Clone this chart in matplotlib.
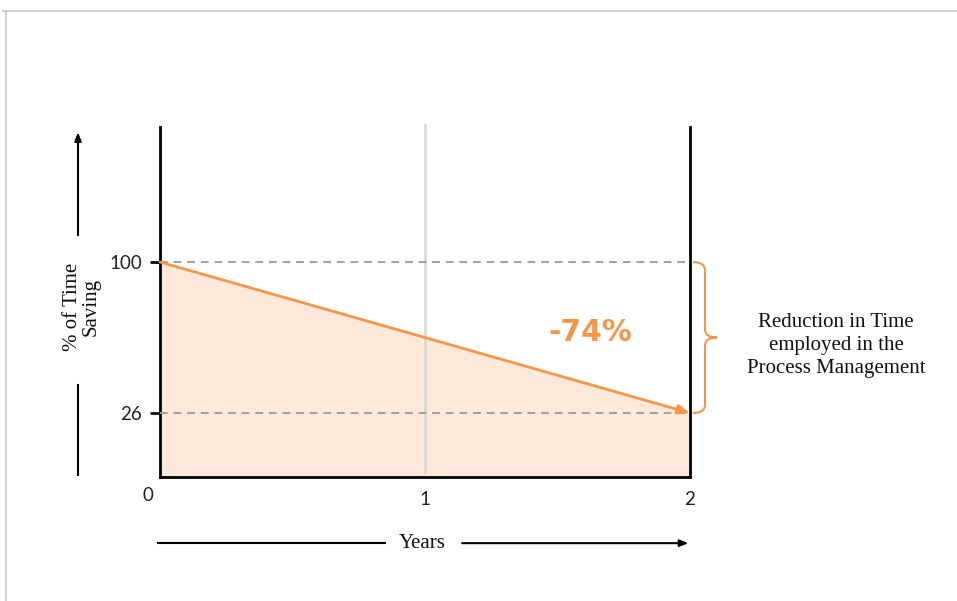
import numpy as np
import matplotlib.pyplot as plt
from matplotlib.path import Path
from matplotlib.patches import PathPatch
from matplotlib.lines import Line2D
import matplotlib.transforms as mtransforms

# Time spent, as % of the starting level
years = [0, 2]
time_pct = [100, 26]
saving_label = '-74%'
xtick_vals = [0, 1, 2]
ytick_vals = [26, 100]

orange = '#F79646'
fill_col = '#FDE9D9'
serif = 'Liberation Serif'
num_font = 'Lato'

fig = plt.figure(figsize=(9.57, 6.01), dpi=100)
ax = fig.add_axes([160 / 957, 1 - 477 / 601, 530 / 957, 350 / 601])
ax.set_xlim(0, 2)
ax.set_ylim(-5.37, 166.2)

# frame: left + bottom black, right edge line at year 2
for s in ['top', 'right']:
    ax.spines[s].set_visible(False)
for s in ['left', 'bottom']:
    ax.spines[s].set_linewidth(2.0)
    ax.spines[s].set_color('black')
ax.axvline(2, color='black', lw=2.0, zorder=5, clip_on=False)
ax.plot([1, 1], [-3, 167], color='#D9D9D9', lw=2, zorder=2, clip_on=False)

# shaded area and trend arrow
ax.fill_between(years, time_pct, -5.37, color=fill_col, zorder=1, lw=0)
for v in time_pct:
    ax.axhline(v, color='#A0A0A0', lw=1.4, ls=(0, (4, 3)), zorder=3)
ax.annotate('', xy=(years[1], time_pct[1]), xytext=(years[0], time_pct[0]),
            arrowprops=dict(arrowstyle='-|>,head_length=0.7,head_width=0.28',
                            color=orange, lw=2, shrinkA=0, shrinkB=0), zorder=4)

ax.text(1.623, 65.7, saving_label, color=orange, family='DejaVu Sans',
        fontweight='bold', fontsize=21.5, ha='center', va='center')

# ticks
ax.set_yticks(ytick_vals)
ax.set_yticklabels([str(v) for v in ytick_vals])
ax.tick_params(axis='y', length=7, width=2, pad=6, labelsize=13.5,
               labelcolor='#222222')
ax.set_xticks(xtick_vals)
ax.set_xticklabels([str(v) for v in xtick_vals])
ax.set_xticks([1], minor=True)
ax.tick_params(axis='x', which='major', length=0, pad=10, labelsize=13.5,
               labelcolor='#222222')
ax.tick_params(axis='x', which='minor', length=6, width=2, color='black')
for lab in ax.get_xticklabels() + ax.get_yticklabels():
    lab.set_family(num_font)
ax.get_xticklabels()[0].set_transform(
    ax.get_xticklabels()[0].get_transform()
    + mtransforms.ScaledTranslation(-12 / 100, 4 / 100, fig.dpi_scale_trans))

# curly brace spanning the reduction
px = 2 / 530
py = 74 / 151
x0 = 2 + 3 * px
xm = 2 + 15 * px
xt = 2 + 27 * px
top, bot = time_pct
mid = (top + bot) / 2
c = 8 * py
verts = [(x0, top), (xm, top), (xm, top - c),
         (xm, mid + c),
         (xm, mid), (xt, mid),
         (xm, mid), (xm, mid - c),
         (xm, bot + c),
         (xm, bot), (x0, bot)]
codes = [Path.MOVETO, Path.CURVE3, Path.CURVE3, Path.LINETO,
         Path.CURVE3, Path.CURVE3,
         Path.CURVE3, Path.CURVE3, Path.LINETO,
         Path.CURVE3, Path.CURVE3]
ax.add_patch(PathPatch(Path(verts, codes), fill=False, ec=orange, lw=1.5,
                       clip_on=False))

ax.text((836 - 160) / 530, 0.375,
        'Reduction in Time\nemployed in the\nProcess Management',
        transform=ax.transAxes, ha='center', va='center',
        family=serif, fontsize=15, linespacing=1.3, color='#111111')

# axis captions with arrows
ax.annotate('', xy=(-0.1547, 0.985), xytext=(-0.1547, 0.691),
            xycoords='axes fraction', annotation_clip=False,
            arrowprops=dict(arrowstyle='-|>,head_length=0.5,head_width=0.2',
                            color='black', lw=1.5, shrinkA=0, shrinkB=0))
ax.plot([-0.1547, -0.1547], [0.006, 0.263], transform=ax.transAxes,
        color='black', lw=1.5, clip_on=False)
ax.text(-0.148, 0.485, '% of Time\nSaving', transform=ax.transAxes,
        rotation=90, ha='center', va='center', family=serif, fontsize=15,
        linespacing=0.95, color='#111111')

ax.plot([-0.004, 0.4245], [-0.189, -0.189], transform=ax.transAxes,
        color='black', lw=1.5, clip_on=False)
ax.annotate('', xy=(0.997, -0.189), xytext=(0.570, -0.189),
            xycoords='axes fraction', annotation_clip=False,
            arrowprops=dict(arrowstyle='-|>,head_length=0.5,head_width=0.2',
                            color='black', lw=1.5, shrinkA=0, shrinkB=0))
ax.text(0.494, -0.189, 'Years', transform=ax.transAxes, ha='center',
        va='center', family=serif, fontsize=15, color='#111111')

# thin page border (top and left)
fig.add_artist(Line2D([3 / 957, 1], [1 - 11 / 601] * 2, color='#C8C8C8', lw=1.2))
fig.add_artist(Line2D([6 / 957] * 2, [0, 1 - 11 / 601], color='#C8C8C8', lw=1.2))

fig.savefig('out.png', dpi=100)
